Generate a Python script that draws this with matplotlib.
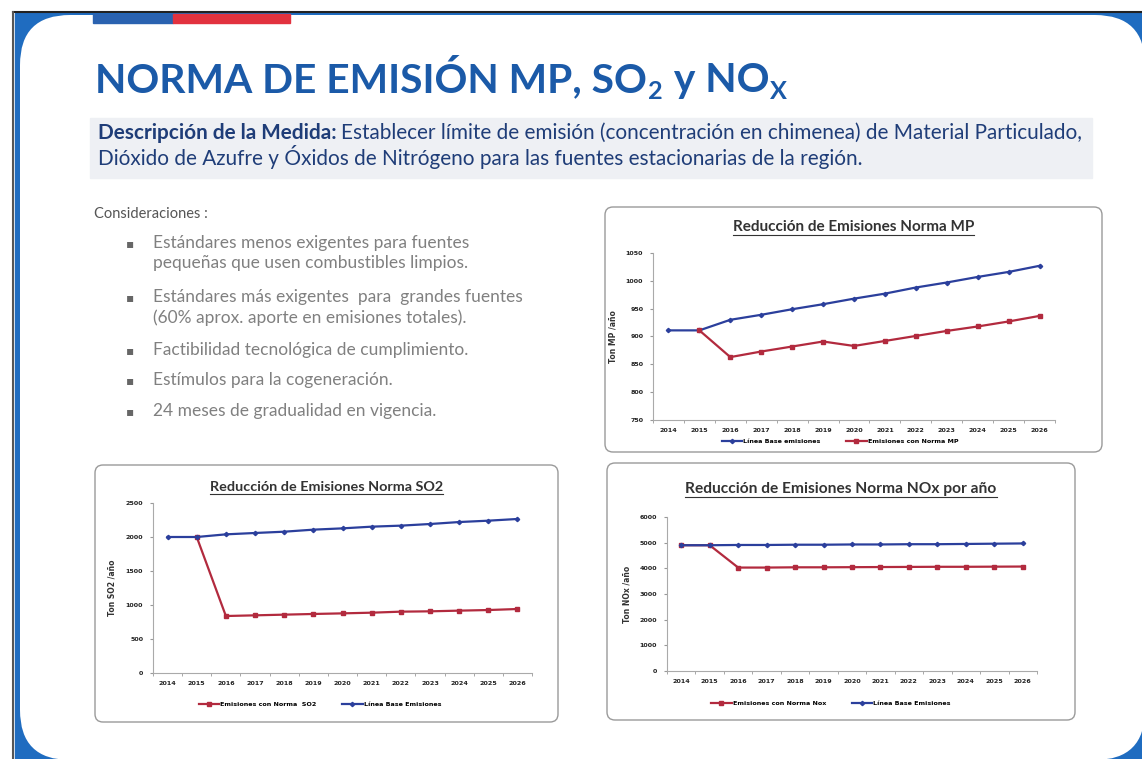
import matplotlib
matplotlib.use("Agg")
import matplotlib.pyplot as plt
from matplotlib.patches import Rectangle, FancyBboxPatch
import numpy as np

# ---- data ----
years = ['2014', '2015', '2016', '2017', '2018', '2019', '2020',
         '2021', '2022', '2023', '2024', '2025', '2026']

mp_base = [911, 911, 930, 939, 949, 958, 968, 977, 988, 997, 1007, 1016, 1027]
mp_norma = [911, 863, 873, 882, 891, 883, 892, 901, 910, 918, 927, 937]        # from 2015

so2_base = [2000, 2000, 2039, 2059, 2078, 2108, 2127, 2152, 2167, 2191, 2220, 2240, 2265]
so2_norma = [2000, 838, 848, 858, 868, 877, 887, 902, 907, 917, 926, 941]      # from 2015

nox_base = [4900, 4900, 4910, 4910, 4920, 4920, 4930, 4930, 4940, 4940, 4950, 4960, 4970]
nox_norma = [4900, 4900, 4030, 4030, 4040, 4040, 4045, 4050, 4055, 4060, 4060, 4065, 4070]

bullets = [
    "Estándares menos exigentes para fuentes\npequeñas que usen combustibles limpios.",
    "Estándares más exigentes  para  grandes fuentes\n(60% aprox. aporte en emisiones totales).",
    "Factibilidad tecnológica de cumplimiento.",
    "Estímulos para la cogeneración.",
    "24 meses de gradualidad en vigencia.",
]

BLUE = '#2b3f9c'
RED = '#b22a3e'
TITLE_BLUE = '#1b5aa8'
FONT = 'Lato'

W, H = 1142, 759
fig = plt.figure(figsize=(W / 100, H / 100), dpi=100)
R = fig.canvas.get_renderer()

# full-figure axes in pixel units (y down) for frame and text
bg = fig.add_axes([0, 0, 1, 1])
bg.set_xlim(0, W)
bg.set_ylim(H, 0)
bg.axis('off')


def right_of(t):
    return t.get_window_extent(R).x1


def fit(t, width):
    w = t.get_window_extent(R).width
    t.set_fontsize(t.get_fontsize() * width / w)


# slide frame
bg.add_patch(Rectangle((15, 13), W, H, color='#1f6cc0', zorder=0))
bg.add_patch(FancyBboxPatch((20, 15), 1125, 745,
                            boxstyle='round,pad=0,rounding_size=50',
                            fc='white', ec='none', zorder=1))
bg.plot([13, W], [12, 12], color='#222222', lw=1.5, zorder=2)
bg.plot([13, 13], [12, H], color='#555555', lw=1.5, zorder=2)
bg.add_patch(Rectangle((93, 14), 80, 9, color='#2a62b0', zorder=2))
bg.add_patch(Rectangle((173, 14), 117, 9, color='#e2323f', zorder=2))

# main title with subscripts
t = bg.text(95, 92, "NORMA DE EMISIÓN MP, SO", fontsize=30, fontweight='bold',
            family=FONT, color=TITLE_BLUE, va='baseline', zorder=3)
fit(t, 553)
fs = t.get_fontsize()
x = right_of(t) + 1
for s, sub in [("2", True), (" y NO", False), ("X", True)]:
    t = bg.text(x, 92 + (7 if sub else 0), s, fontsize=fs * (0.62 if sub else 1),
                fontweight='bold', family=FONT, color=TITLE_BLUE,
                va='baseline', zorder=3)
    x = right_of(t) + 1

# description box
bg.add_patch(Rectangle((90, 118), 1002, 60, color='#eef0f4', zorder=2))
DESC = '#1f3d78'
t1 = bg.text(98, 139, "Descripción de la Medida:", fontsize=12, fontweight='bold',
             family=FONT, color=DESC, va='baseline', zorder=3)
t2 = bg.text(right_of(t1) + 4, 139,
             "Establecer límite de emisión (concentración en chimenea) de Material Particulado,",
             fontsize=12, family=FONT, color=DESC, va='baseline', zorder=3)
scale = 985 / (right_of(t2) - 98)
t1.set_fontsize(12 * scale)
t2.set_fontsize(12 * scale)
t2.set_x(right_of(t1) + 4)
bg.text(98, 165, "Dióxido de Azufre y Óxidos de Nitrógeno para las fuentes estacionarias de la región.",
        fontsize=12 * scale, family=FONT, color=DESC, va='baseline', zorder=3)

# considerations
bg.text(94, 214, "Consideraciones :", fontsize=10.5, family=FONT, color='#555555',
        va='center', zorder=3)
probe = bg.text(0, 0, "Estándares menos exigentes para fuentes", fontsize=10, family=FONT)
fit(probe, 315)
bfs = probe.get_fontsize()
probe.remove()
ys = [244, 298, 351, 381, 412]
for y, s in zip(ys, bullets):
    bg.text(130, y, "▪", fontsize=bfs * 0.7, color='#666666', va='center',
            ha='center', zorder=3)
    bg.text(153, y - bfs * 0.75, s, fontsize=bfs, family=FONT, color='#808080',
            va='top', linespacing=1.35, zorder=3)


def chart(box, area, title, title_y, title_w, ylabel, ylabel_x, ylim, yticks,
          series, legend_xy):
    bx0, by0, bx1, by1 = box
    bg.add_patch(FancyBboxPatch((bx0, by0), bx1 - bx0, by1 - by0,
                                boxstyle='round,pad=0,rounding_size=8',
                                fc='white', ec='#9a9a9a', lw=1.0, zorder=2))
    x0, y0, x1, y1 = area
    ax = fig.add_axes([x0 / W, 1 - y1 / H, (x1 - x0) / W, (y1 - y0) / H])
    ax.set_zorder(5)
    ax.patch.set_alpha(0)
    pos = np.arange(len(years))
    for label, start, vals, color, marker, ms in series:
        ax.plot(pos[start:], vals, color=color, lw=1.6, marker=marker,
                markersize=ms, label=label)
    ax.set_xlim(-0.5, len(years) - 0.5)
    ax.set_ylim(*ylim)
    ax.set_yticks(yticks)
    ax.set_xticks(pos)
    ax.set_xticklabels(years)
    ax.set_xticks(np.arange(-0.5, len(years)), minor=True)
    ax.tick_params(axis='x', which='major', length=0, pad=6, labelsize=4.6)
    ax.tick_params(axis='x', which='minor', length=2, color='#999999')
    ax.tick_params(axis='y', length=2, color='#999999', labelsize=4.6, pad=5)
    for lab in ax.get_xticklabels() + ax.get_yticklabels():
        lab.set_fontweight('bold')
        lab.set_color('#222222')
    for sp in ['top', 'right']:
        ax.spines[sp].set_visible(False)
    ax.spines['left'].set_color('#aaaaaa')
    ax.spines['bottom'].set_color('#aaaaaa')
    leg = ax.legend(loc='center', bbox_to_anchor=legend_xy, bbox_transform=bg.transData,
                    ncol=2, frameon=False, fontsize=4.6, handlelength=3.2,
                    columnspacing=4, handletextpad=0.2)
    for tx in leg.get_texts():
        tx.set_fontweight('bold')
    # title, underlined
    tt = bg.text((bx0 + bx1) / 2, title_y, title, fontsize=9.5, fontweight='bold',
                 family=FONT, color='#333333', ha='center', va='center', zorder=6)
    fit(tt, title_w)
    e = tt.get_window_extent(R)
    bg.plot([e.x0, e.x1], [H - e.y0 + 1, H - e.y0 + 1], color='#333333', lw=0.8, zorder=6)
    bg.text(ylabel_x, (y0 + y1) / 2, ylabel, rotation=90, fontsize=5.5, fontweight='bold',
            color='#333333', ha='center', va='center', zorder=6)
    return ax


chart((605, 207, 1102, 452), (653, 253, 1055, 420),
      "Reducción de Emisiones Norma MP", 227, 243, "Ton MP /año", 613,
      (750, 1050), np.arange(750, 1051, 50),
      [("Línea Base emisiones", 0, mp_base, BLUE, 'D', 2.2),
       ("Emisiones con Norma MP", 1, mp_norma, RED, 's', 3)],
      (840, 441))

chart((95, 465, 558, 722), (153, 503, 532, 673),
      "Reducción de Emisiones Norma SO2", 487, 234, "Ton SO2 /año", 112,
      (0, 2500), np.arange(0, 2501, 500),
      [("Emisiones con Norma  SO2", 1, so2_norma, RED, 's', 3),
       ("Línea Base Emisiones", 0, so2_base, BLUE, 'D', 2.2)],
      (320, 704))

chart((607, 463, 1075, 720), (667, 517, 1037, 671),
      "Reducción de Emisiones Norma NOx por año", 489, 311, "Ton NOx /año", 627,
      (0, 6000), np.arange(0, 6001, 1000),
      [("Emisiones con Norma Nox", 0, nox_norma, RED, 's', 3.5),
       ("Línea Base Emisiones", 0, nox_base, BLUE, 'D', 2.2)],
      (831, 703))

fig.savefig("out.png", dpi=100)
